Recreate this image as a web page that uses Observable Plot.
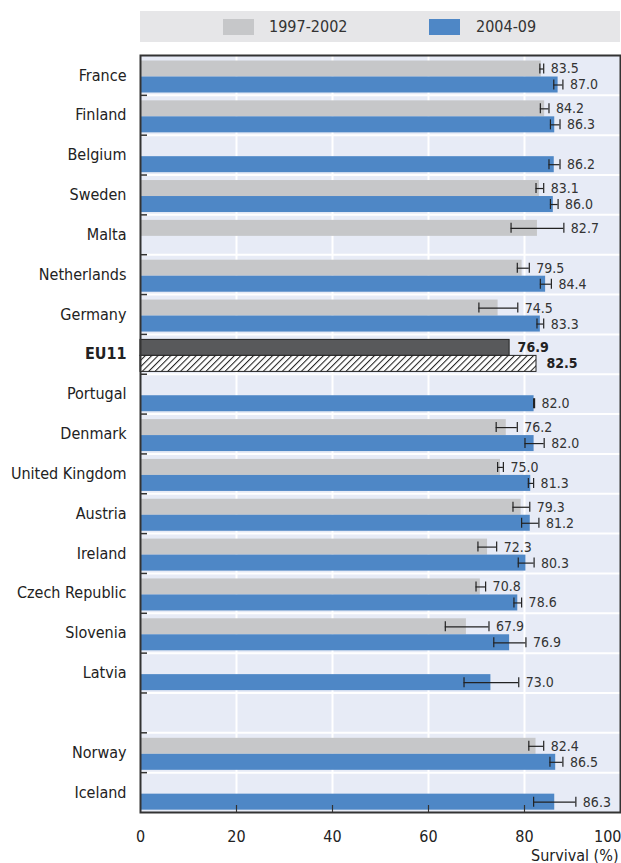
<!DOCTYPE html>
<html><head><meta charset="utf-8">
<script src="https://cdn.jsdelivr.net/npm/d3@7"></script>
<script src="https://cdn.jsdelivr.net/npm/@observablehq/plot@0.6"></script>
<style>
body{margin:0;background:#fff;font-family:"Liberation Sans Narrow","DejaVu Sans Condensed","Arial Narrow",sans-serif;}
#legend{position:relative;margin:11px 0 0 140px;width:480px;height:31px;background:#e6e6e8;}
.sw{position:absolute;top:8px;width:31px;height:16px;}
.lt{position:absolute;top:0;line-height:31px;font-size:16px;color:#333;}
#chart svg{display:block;}
</style></head><body>
<div id="legend"></div>
<div id="chart"></div>
<script>
// ---- data ----
const seriesNames = ["1997-2002", "2004-09"];
const seriesColors = ["#c6c7c9", "#4e87c6"];
const BLANK = " ";
const countries = ["France","Finland","Belgium","Sweden","Malta","Netherlands","Germany","EU11","Portugal","Denmark","United Kingdom","Austria","Ireland","Czech Republic","Slovenia","Latvia",BLANK,"Norway","Iceland"];
const v1  = [83.5, 84.2, null, 83.1, 82.7, 79.5, 74.5, 76.9, null, 76.2, 75.0, 79.3, 72.3, 70.8, 67.9, null, null, 82.4, null];
const lo1 = [83.2, 83.3, null, 82.4, 77.2, 78.5, 70.5, null, null, 74.1, 74.4, 77.6, 70.3, 69.9, 63.5, null, null, 80.9, null];
const hi1 = [84.0, 85.1, null, 84.0, 88.2, 81.0, 78.6, null, null, 78.5, 75.6, 81.1, 74.2, 71.9, 72.6, null, null, 84.0, null];
const v2  = [87.0, 86.3, 86.2, 86.0, null, 84.4, 83.3, 82.5, 82.0, 82.0, 81.3, 81.2, 80.3, 78.6, 76.9, 73.0, null, 86.5, 86.3];
const lo2 = [86.1, 85.4, 85.1, 85.4, null, 83.3, 82.6, null, 81.9, 80.1, 80.8, 79.4, 78.7, 77.8, 73.6, 67.4, null, 85.3, 81.9];
const hi2 = [88.0, 87.4, 87.4, 87.0, null, 85.6, 84.0, null, 82.1, 84.1, 81.9, 83.0, 82.0, 79.4, 80.3, 78.8, null, 88.0, 90.7];
const xTicks = [0, 20, 40, 60, 80, 100];
const gridTicks = [20, 40, 60, 80];
const AVG = "EU11";

// ---- legend ----
const leg = document.getElementById("legend");
[[83,129],[289,336]].forEach(([sx,tx],i)=>{
  const s=document.createElement("div");s.className="sw";s.style.left=sx+"px";s.style.background=seriesColors[i];leg.appendChild(s);
  const t=document.createElement("div");t.className="lt";t.style.left=tx+"px";t.textContent=seriesNames[i];leg.appendChild(t);
});

// ---- layout ----
const W = 621, H = 821, mt = 13, mb = 51, ml = 140, mr = 1;
const fh = H - mt - mb, fw = W - ml - mr;
const bw = fh / countries.length;
const g1 = [5.5, 21.5], g2 = [21.5, 37.5]; // bar positions within row (px)
const c1 = (g1[0]+g1[1])/2, c2 = (g2[0]+g2[1])/2;
const capH = 10;

const rows = countries.map((c,i)=>({c, v1:v1[i], lo1:lo1[i], hi1:hi1[i], v2:v2[i], lo2:lo2[i], hi2:hi2[i]}));
const s1 = rows.filter(d=>d.v1!=null && d.c!==AVG);
const s2 = rows.filter(d=>d.v2!=null && d.c!==AVG);
const e1 = s1.filter(d=>d.lo1!=null);
const e2 = s2.filter(d=>d.lo2!=null);
const avg = rows.filter(d=>d.c===AVG);

const hatch = () => {
  const g = d3.create("svg:defs");
  const p = g.append("pattern").attr("id","hatch").attr("patternUnits","userSpaceOnUse")
    .attr("width",4.5).attr("height",4.5).attr("patternTransform","rotate(45)");
  p.append("rect").attr("width",4.5).attr("height",4.5).attr("fill","white");
  p.append("line").attr("x1",0.5).attr("y1",0).attr("x2",0.5).attr("y2",4.5).attr("stroke","#222").attr("stroke-width",1.1);
  return g.node();
};

const txt = {textAnchor:"start", fontSize:14, fill:"#333", dx:7};
const axisOpts = {tickSize: 0, tickPadding: 18, fontSize: 16};

const chart = Plot.plot({
  width: W, height: H, marginTop: mt, marginBottom: mb, marginLeft: ml, marginRight: mr,
  style: {fontFamily: '"Liberation Sans Narrow","DejaVu Sans Condensed","Arial Narrow",sans-serif', fontSize: "16px", color: "#222", background: "transparent"},
  x: {domain: [0, 100]},
  y: {type: "band", domain: countries, padding: 0, round: false},
  marks: [
    hatch,
    Plot.frame({fill: "#e7ebf6", stroke: null}),
    Plot.gridX(gridTicks, {stroke: "white", strokeOpacity: 1, strokeWidth: 2}),
    Plot.ruleY(countries.slice(1), {y: d=>d, dy: -bw/2, stroke: "white", strokeWidth: 2}),
    // series 1
    Plot.barX(s1, {x: "v1", y: "c", fill: seriesColors[0], insetTop: g1[0], insetBottom: bw - g1[1]}),
    // series 2
    Plot.barX(s2, {x: "v2", y: "c", fill: seriesColors[1], insetTop: g2[0], insetBottom: bw - g2[1]}),
    // EU11 average
    Plot.barX(avg, {x: "v1", y: "c", fill: "#58595b", stroke: "#222", strokeWidth: 1, insetTop: g1[0], insetBottom: bw - g1[1]}),
    Plot.barX(avg, {x: "v2", y: "c", fill: "url(#hatch)", stroke: "#222", strokeWidth: 1, insetTop: g2[0], insetBottom: bw - g2[1]}),
    // error bars
    Plot.ruleY(e1, {x1: "lo1", x2: "hi1", y: "c", dy: c1 - bw/2, stroke: "#222", strokeWidth: 1.2}),
    Plot.tickX(e1, {x: "lo1", y: "c", stroke: "#222", strokeWidth: 1.2, insetTop: c1 - capH/2, insetBottom: bw - c1 - capH/2}),
    Plot.tickX(e1, {x: "hi1", y: "c", stroke: "#222", strokeWidth: 1.2, insetTop: c1 - capH/2, insetBottom: bw - c1 - capH/2}),
    Plot.ruleY(e2, {x1: "lo2", x2: "hi2", y: "c", dy: c2 - bw/2, stroke: "#222", strokeWidth: 1.2}),
    Plot.tickX(e2, {x: "lo2", y: "c", stroke: "#222", strokeWidth: 1.2, insetTop: c2 - capH/2, insetBottom: bw - c2 - capH/2}),
    Plot.tickX(e2, {x: "hi2", y: "c", stroke: "#222", strokeWidth: 1.2, insetTop: c2 - capH/2, insetBottom: bw - c2 - capH/2}),
    // value labels
    Plot.text(s1, {x: d=>Math.max(d.v1, d.hi1 ?? d.v1), y: "c", dy: c1 - bw/2, text: d=>d.v1.toFixed(1), ...txt}),
    Plot.text(s2, {x: d=>Math.max(d.v2, d.hi2 ?? d.v2), y: "c", dy: c2 - bw/2, text: d=>d.v2.toFixed(1), ...txt}),
    Plot.text(avg, {x: "v1", y: "c", dy: c1 - bw/2, text: d=>d.v1.toFixed(1), ...txt, dx: 8, fill: "#222", fontWeight: "bold"}),
    Plot.text(avg, {x: "v2", y: "c", dy: c2 - bw/2, text: d=>d.v2.toFixed(1), ...txt, dx: 10, fill: "#222", fontWeight: "bold"}),
    // small ticks on left at row boundaries and bottom at gridlines
    Plot.ruleY(countries.slice(1), {y: d=>d, dy: -bw/2, stroke: "#333", strokeWidth: 1.5, insetRight: fw - 7}),
    Plot.ruleX(gridTicks, {stroke: "#333", strokeWidth: 1.2, insetTop: fh - 7}),
    Plot.frame({stroke: "#333", strokeWidth: 2}),
    // axes
    Plot.axisX(xTicks.slice(0, -1), {...axisOpts, label: "Survival (%)", labelAnchor: "right", labelArrow: "none"}),
    Plot.axisX(xTicks.slice(-1), {...axisOpts, textAnchor: "end", dx: 1, label: null}),
    Plot.axisY(countries.filter(c=>c!==BLANK && c!==AVG), {tickSize: 0, tickPadding: 14, fontSize: 16, label: null}),
    Plot.axisY([AVG], {tickSize: 0, tickPadding: 14, fontSize: 16, fontWeight: "bold", label: null})
  ]
});
document.getElementById("chart").appendChild(chart);
</script>
</body></html>
